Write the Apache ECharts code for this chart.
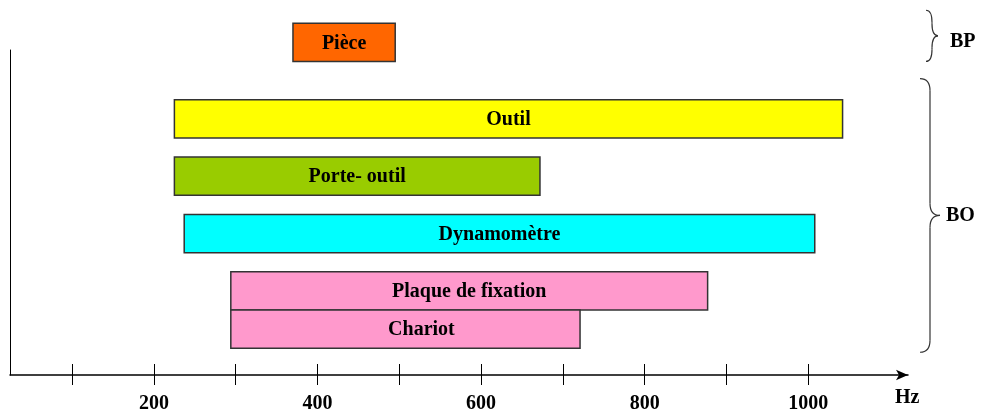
<!DOCTYPE html>
<html>
<head>
<meta charset="utf-8">
<script src="https://cdn.jsdelivr.net/npm/echarts@6/dist/echarts.min.js"></script>
<style>
  html, body { margin: 0; padding: 0; background: #fff; }
  #chart { width: 989px; height: 417px; }
</style>
</head>
<body>
<div id="chart"></div>
<script>
// Frequency ranges (Hz) of each sub-assembly
const parts = ['Pièce', 'Outil', 'Porte- outil', 'Dynamomètre', 'Plaque de fixation', 'Chariot'];
const freqLow = [370, 225, 225, 237, 294, 294];
const freqHigh = [495, 1042, 672, 1008, 877, 721];

// Axis ticks and labelled values
const tickValues = [100, 200, 300, 400, 500, 600, 700, 800, 900, 1000];
const labelValues = [200, 400, 600, 800, 1000];

// Groups shown by the braces on the right
const groupNames = ['BP', 'BO'];

// Layout: vertical slot of each bar (one bar is two slots tall)
const slotOf = [0, 4, 7, 10, 13, 15];
const barFill = ['#FF6600', '#FFFF00', '#99CC00', '#00FFFF', '#FF99CC', '#FF99CC'];
const labelShift = [0, 0, 0, 0, 0, 16];

const FONT = '"Liberation Serif", "DejaVu Serif", serif';
const TEXT_FONT = 'bold 20px ' + FONT;

const chart = echarts.init(document.getElementById('chart'), null, { renderer: 'canvas' });

const seriesData = parts.map((name, i) => [freqLow[i], freqHigh[i], slotOf[i], i]);

const xBase = {
  type: 'value',
  min: 24,
  max: 1122,
  splitLine: { show: false },
  gridIndex: 0
};

const option = {
  animation: false,
  backgroundColor: '#fff',
  grid: { left: 10, right: 81, top: 50, bottom: 42 },
  xAxis: [
    Object.assign({}, xBase, {
      position: 'bottom',
      axisLine: {
        show: true,
        symbol: ['none', 'arrow'],
        symbolSize: [8, 12],
        lineStyle: { color: '#000', width: 1.5 }
      },
      axisTick: {
        show: true,
        customValues: tickValues,
        length: 10,
        lineStyle: { color: '#000', width: 1 }
      },
      axisLabel: {
        show: true,
        customValues: labelValues,
        formatter: v => String(v),
        margin: 19,
        color: '#000',
        fontFamily: FONT,
        fontWeight: 'bold',
        fontSize: 20
      },
      name: 'Hz',
      nameLocation: 'end',
      nameGap: -13,
      nameTextStyle: {
        color: '#000',
        fontFamily: FONT,
        fontWeight: 'bold',
        fontSize: 20,
        verticalAlign: 'top',
        align: 'left',
        padding: [13, 0, 0, 0]
      }
    }),
    Object.assign({}, xBase, {
      position: 'bottom',
      axisLine: { show: false },
      axisTick: {
        show: true,
        inside: true,
        customValues: tickValues,
        length: 11,
        lineStyle: { color: '#000', width: 1 }
      },
      axisLabel: { show: false }
    })
  ],
  yAxis: {
    type: 'value',
    inverse: true,
    min: 0.4,
    max: 17.4,
    axisLine: { show: true, onZero: false, lineStyle: { color: '#000', width: 1 } },
    axisTick: { show: false },
    axisLabel: { show: false },
    splitLine: { show: false }
  },
  series: [{
    type: 'custom',
    clip: false,
    encode: { x: [0, 1], y: 2 },
    data: seriesData,
    renderItem: function (params, api) {
      const idx = api.value(3);
      const a = api.coord([api.value(0), api.value(2) - 1]);
      const b = api.coord([api.value(1), api.value(2) + 1]);
      const x = Math.min(a[0], b[0]);
      const y = Math.min(a[1], b[1]);
      const w = Math.abs(b[0] - a[0]);
      const h = Math.abs(b[1] - a[1]);
      return {
        type: 'group',
        children: [
          {
            type: 'rect',
            shape: { x: x, y: y, width: w, height: h },
            style: { fill: barFill[idx], stroke: '#333', lineWidth: 1.5 }
          },
          {
            type: 'text',
            style: {
              x: x + w / 2 + labelShift[idx],
              y: y + h / 2 + 1,
              text: parts[idx],
              fill: '#000',
              font: TEXT_FONT,
              align: 'center',
              verticalAlign: 'middle'
            }
          }
        ]
      };
    }
  }]
};

chart.setOption(option);

// Curly brace built from straight runs and quadratic curves
function brace(x0, y1, y2, depth) {
  const ym = (y1 + y2) / 2;
  const xm = x0 + depth / 2;
  const r = Math.min(12, (y2 - y1) / 4);
  const st = { stroke: '#333', lineWidth: 1.2, fill: null };
  return [
    { type: 'bezierCurve', shape: { x1: x0, y1: y1, cpx1: xm, cpy1: y1, x2: xm, y2: y1 + r }, style: st },
    { type: 'line', shape: { x1: xm, y1: y1 + r, x2: xm, y2: ym - r }, style: st },
    { type: 'bezierCurve', shape: { x1: xm, y1: ym - r, cpx1: xm, cpy1: ym, x2: x0 + depth, y2: ym }, style: st },
    { type: 'bezierCurve', shape: { x1: x0 + depth, y1: ym, cpx1: xm, cpy1: ym, x2: xm, y2: ym + r }, style: st },
    { type: 'line', shape: { x1: xm, y1: ym + r, x2: xm, y2: y2 - r }, style: st },
    { type: 'bezierCurve', shape: { x1: xm, y1: y2 - r, cpx1: xm, cpy1: y2, x2: x0, y2: y2 }, style: st }
  ];
}

const yPx = v => chart.convertToPixel({ yAxisIndex: 0 }, v);
const bpTop = yPx(slotOf[0] - 1) - 13;
const bpBot = yPx(slotOf[0] + 1);
const boTop = yPx(slotOf[1] - 1) - 21;
const boBot = yPx(slotOf[5] + 1) + 4;

const braces = [
  { x: 926, top: bpTop, bot: bpBot, depth: 12, labelX: 950, dy: 6 },
  { x: 920, top: boTop, bot: boBot, depth: 20, labelX: 946, dy: 0 }
];

const graphics = [];
braces.forEach((b, i) => {
  graphics.push({ type: 'group', children: brace(b.x, b.top, b.bot, b.depth) });
  graphics.push({
    type: 'text',
    x: b.labelX,
    y: (b.top + b.bot) / 2 + b.dy,
    style: {
      text: groupNames[i],
      fill: '#000',
      font: TEXT_FONT,
      align: 'left',
      verticalAlign: 'middle'
    }
  });
});

chart.setOption({ graphic: graphics });
</script>
</body>
</html>
